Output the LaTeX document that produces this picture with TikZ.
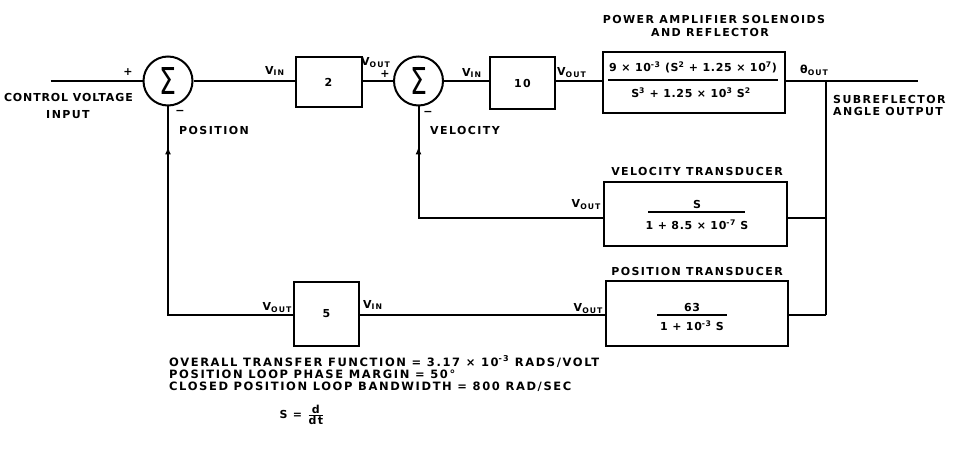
\documentclass[tikz,border=0pt]{standalone}
\usepackage{fontspec}
\setmainfont{DejaVu Sans}
\newfontfamily\dgfam{DejaVu Sans}[LetterSpace=13]
\newfontfamily\fracfam{DejaVu Sans}[LetterSpace=6]
\newfontfamily\tightfam{DejaVu Sans}[LetterSpace=8]
\newfontfamily\notefam{DejaVu Sans}[LetterSpace=14]
\newfontfamily\sigfam{DejaVu Sans}
\usetikzlibrary{arrows.meta,decorations.markings}
\newcommand\dglab{\dgfam\bfseries\fontsize{11}{12}\selectfont}
\newcommand\dgfrac{\fracfam\bfseries\fontsize{11}{12}\selectfont}
\newcommand\dgtight{\tightfam\bfseries\fontsize{11}{12}\selectfont}
\newcommand\dgbig{\notefam\bfseries\fontsize{11.5}{12}\selectfont}
\newcommand\sub[1]{\textsubscript{#1}}
\newcommand\sups[1]{\textsuperscript{#1}}
\newcommand\sig{\resizebox{17pt}{27pt}{\sigfam Σ}}
\tikzset{
  wire/.style={line width=2pt},
  blk/.style={draw, line width=2pt, inner sep=0pt, font=\dglab},
  sumnode/.style={draw, circle, line width=2pt, minimum size=49pt, inner sep=0pt},
  lab/.style={font=\dglab, inner sep=0pt},
  flab/.style={font=\dgfrac, inner sep=0pt},
  note/.style={font=\dgbig, inner sep=0pt, anchor=west},
  fbar/.style={line width=1.6pt},
  upmark/.style={postaction={decorate, decoration={markings,
      mark=at position -40pt with {\arrow{Latex[length=8pt,width=6pt]}}}}}
}
\begin{document}
\begin{tikzpicture}[x=1pt,y=-1pt]
\useasboundingbox (0,0) rectangle (962,449);
\fill[white] (0,0) rectangle (962,449);
\clip (0,0) rectangle (962,449);

% summing junctions
\node[sumnode] (sum1) at (168,81) {\sig};
\node[sumnode] (sum2) at (418.5,81) {\sig};

% blocks
\node[blk, minimum width=66pt, minimum height=50pt] (blk2) at (328.5,82) {2};
\node[blk, minimum width=65pt, minimum height=52pt] (blk10) at (522.5,83) {10};
\node[blk, minimum width=182pt, minimum height=61pt] (pa) at (693.5,82.5) {};
\node[blk, minimum width=183pt, minimum height=64pt] (vt) at (695.5,214) {};
\node[blk, minimum width=182pt, minimum height=65pt] (pt) at (697,313.5) {};
\node[blk, minimum width=65pt, minimum height=64pt] (blk5) at (326.5,314) {5};

% fractions
\node[flab] (pan) at (693,67) {9 × 10\sups{-3} (S\sups{2} + 1.25 × 10\sups{7})};
\draw[fbar] (608,80) -- (778,80);
\node[flab] (pad) at (691,93) {S\sups{3} + 1.25 × 10\sups{3} S\sups{2}};
\node[flab] (vtn) at (697,204) {S};
\draw[fbar] (648,212) -- (745,212);
\node[flab] (vtd) at (697,225) {1 + 8.5 × 10\sups{-7} S};
\node[flab] (ptn) at (692,307) {63};
\draw[fbar] (657,315) -- (727,315);
\node[flab] (ptd) at (692,326) {1 + 10\sups{-3} S};

% coordinates
\coordinate (in) at (50.5,81);
\coordinate (outend) at (918,81);
\coordinate (tap) at (825.6,81);
\coordinate (vtap) at (825.6,218);
\coordinate (ptap) at (825.6,315);

% main path
\draw[wire] (in) -- (sum1.west);
\draw[wire] (sum1.east) -- (sum1.east -| blk2.west);
\draw[wire] (sum1.east -| blk2.east) -- (sum2.west);
\draw[wire] (sum2.east) -- (sum2.east -| blk10.west);
\draw[wire] (sum2.east -| blk10.east) -- (sum2.east -| pa.west);
\draw[wire] (sum2.east -| pa.east) -- (outend);
\draw[wire] (tap) -- (ptap);
\draw[wire] (vtap) -- (vtap -| vt.east);
\draw[wire] (ptap) -- (ptap -| pt.east);
\draw[wire, upmark] (vtap -| vt.west) -| (sum2.south);
\draw[wire] (ptap -| pt.west) -- (ptap -| blk5.east);
\draw[wire, upmark] (ptap -| blk5.west) -| (sum1.south);

% labels
\node[lab, font=\dgtight, anchor=east] (cvl) at (133,97.5) {CONTROL VOLTAGE};
\node[lab] (inl) at (68,114.5) {INPUT};
\node[lab] (p1) at (128,72) {+};
\node[lab] (m1) at (180,112) {−};
\node[lab, anchor=west] (posl) at (179,130) {POSITION};
\node[lab, anchor=west] (vin2) at (265,71) {V\sub{IN}};
\node[lab, anchor=west] (vout2) at (361,63) {V\sub{OUT}};
\node[lab] (p2) at (385,74) {+};
\node[lab] (m2) at (428,113) {−};
\node[lab, anchor=west] (vell) at (430,130) {VELOCITY};
\node[lab, anchor=west] (vin10) at (462,73) {V\sub{IN}};
\node[lab, anchor=west] (vout10) at (557,73) {V\sub{OUT}};
\node[lab] (pat1) at (714,19) {POWER AMPLIFIER SOLENOIDS};
\node[lab] (pat2) at (710,32) {AND REFLECTOR};
\node[lab, anchor=west] (thout) at (800,70) {θ\sub{OUT}};
\node[lab, anchor=west] (sub1) at (833,99) {SUBREFLECTOR};
\node[lab, anchor=west] (sub2) at (833,111) {ANGLE OUTPUT};
\node[lab] (vtt) at (697,171) {VELOCITY TRANSDUCER};
\node[lab, anchor=east] (vtout) at (601,205) {V\sub{OUT}};
\node[lab] (ptt) at (697,271) {POSITION TRANSDUCER};
\node[lab, anchor=east] (ptout) at (603,309) {V\sub{OUT}};
\node[lab, anchor=east] (b5out) at (292,308) {V\sub{OUT}};
\node[lab, anchor=west] (b5in) at (363,305) {V\sub{IN}};

% notes
\node[note] (n1) at (169,361.5) {OVERALL TRANSFER FUNCTION = 3.17 × 10\sups{-3} RADS/VOLT};
\node[note] (n2) at (169,374) {POSITION LOOP PHASE MARGIN = 50°};
\node[note] (n3) at (169,386.5) {CLOSED POSITION LOOP BANDWIDTH = 800 RAD/SEC};
\node[lab] (sdef) at (302,415) {S = $\frac{\mbox{\dglab d}}{\mbox{\dglab dt}}$};
\end{tikzpicture}
\end{document}
